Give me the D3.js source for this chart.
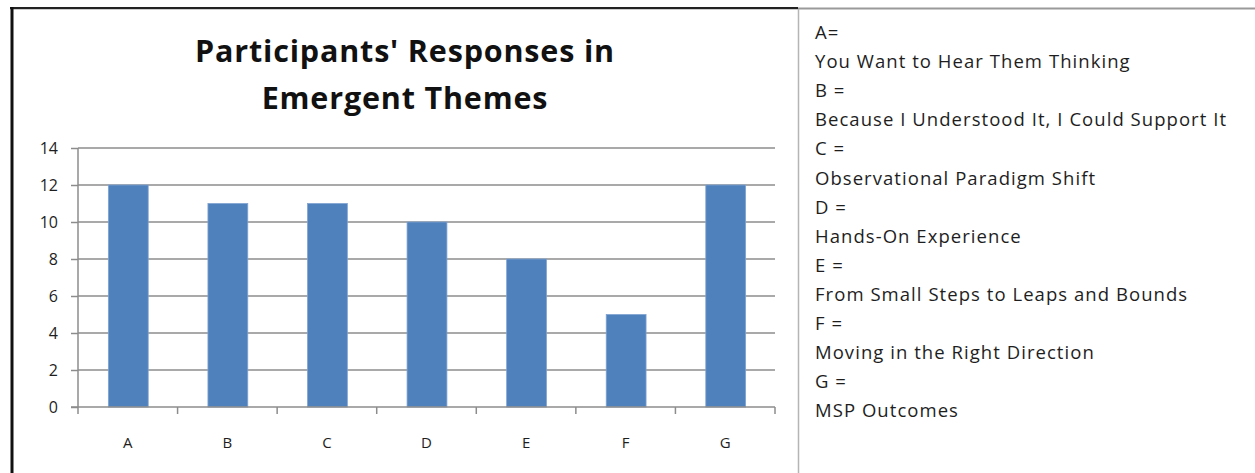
<!DOCTYPE html>
<html><head><meta charset="utf-8">
<script src="https://cdn.jsdelivr.net/npm/d3@7"></script>
<style>
html,body{margin:0;padding:0;background:#fff;}
svg{display:block;}
</style></head>
<body>
<svg id="c" width="1255" height="473"></svg>
<script>
const categories = ["A","B","C","D","E","F","G"];
const values = [12,11,11,10,8,5,12];
const yTicks = [0,2,4,6,8,10,12,14];
const titleLines = ["Participants' Responses in","Emergent Themes"];
const legendLines = [
 "A=","You Want to Hear Them Thinking",
 "B =","Because I Understood It, I Could Support It",
 "C =","Observational Paradigm Shift",
 "D =","Hands-On Experience",
 "E =","From Small Steps to Leaps and Bounds",
 "F =","Moving in the Right Direction",
 "G =","MSP Outcomes"
];

const svg = d3.select("#c");
const font = "'Open Sans', Lato, sans-serif";

// fit letter-spacing so a text element spans a target width
function fitSpacing(sel, target){
  const node = sel.node();
  const w = node.getComputedTextLength();
  const n = node.textContent.length;
  sel.attr("letter-spacing", ((target - w) / n).toFixed(2));
}

// frame
svg.append("line").attr("x1",10).attr("x2",1255).attr("y1",8.5).attr("y2",8.5).attr("stroke","#9a9a9a").attr("stroke-width",2);
svg.append("line").attr("x1",10).attr("x2",798).attr("y1",8).attr("y2",8).attr("stroke","#222").attr("stroke-width",2);
svg.append("line").attr("x1",12).attr("x2",12).attr("y1",7).attr("y2",473).attr("stroke","#111").attr("stroke-width",3);
svg.append("line").attr("x1",798.5).attr("x2",798.5).attr("y1",9).attr("y2",473).attr("stroke","#b5b5b5").attr("stroke-width",1.5);

// title
let titleSpacing = 0;
titleLines.forEach((t,i)=>{
  const el = svg.append("text").attr("text-anchor","middle").attr("font-family",font)
    .attr("font-weight","bold").attr("font-size",30.5).attr("fill","#111")
    .attr("x",405).attr("y",62+i*47).text(t);
  if(i===0){ fitSpacing(el, 420); titleSpacing = el.attr("letter-spacing"); }
  else el.attr("letter-spacing", titleSpacing);
});

// plot
const xb = d3.scaleBand().domain(categories).range([78,775]);
const y = d3.scaleLinear().domain([0,14]).range([407,148]);

// gridlines
svg.append("g").selectAll("line").data(yTicks.filter(d=>d>0)).join("line")
  .attr("x1",78).attr("x2",775).attr("y1",d=>y(d)).attr("y2",d=>y(d))
  .attr("stroke","#8c8c8c").attr("stroke-width",1.5);

const yAxis = d3.axisLeft(y).tickValues(yTicks).tickSize(7).tickPadding(13);
const gy = svg.append("g").attr("transform","translate(78,0)").call(yAxis);
gy.select(".domain").attr("stroke","#8c8c8c").attr("stroke-width",1.5).attr("d","M0,"+y(14)+"V"+y(0));
gy.selectAll(".tick line").attr("stroke","#8c8c8c").attr("stroke-width",1.5);
gy.selectAll(".tick text").attr("font-family",font).attr("font-size",16).attr("fill","#1e1e1e");

// bars
svg.append("g").selectAll("rect").data(categories).join("rect")
  .attr("x",(d)=>xb(d)+xb.bandwidth()*0.305).attr("width",xb.bandwidth()*0.40)
  .attr("y",(d,i)=>y(values[i])).attr("height",(d,i)=>y(0)-y(values[i]))
  .attr("fill","#4f81bd").attr("stroke","#7fa3d0").attr("stroke-width",0.8);

// x axis
const xAxis = d3.axisBottom(xb).tickSize(0).tickPadding(30);
const gx = svg.append("g").attr("transform","translate(0,"+y(0)+")").call(xAxis);
gx.select(".domain").remove();
gx.selectAll(".tick text").attr("font-family",font).attr("font-size",15).attr("fill","#1e1e1e");
gx.append("g").selectAll("line").data(categories.concat(["end"])).join("line")
  .attr("x1",(d,i)=>78+i*xb.step()).attr("x2",(d,i)=>78+i*xb.step())
  .attr("y1",0).attr("y2",7).attr("stroke","#8c8c8c").attr("stroke-width",1.5);
gx.append("line").attr("x1",71).attr("x2",775).attr("y1",0).attr("y2",0).attr("stroke","#8c8c8c").attr("stroke-width",1.5);

// legend text
const lg = svg.append("g");
legendLines.forEach((t,i)=>lg.append("text").attr("font-family",font).attr("font-size",18.5).attr("fill","#1e1e1e")
  .attr("x",815).attr("y",39+i*29.1).text(t));
const longest = lg.selectAll("text").filter(function(){return this.textContent===legendLines[3];});
fitSpacing(longest, 412);
lg.selectAll("text").attr("letter-spacing", longest.attr("letter-spacing"));
</script>
</body></html>
